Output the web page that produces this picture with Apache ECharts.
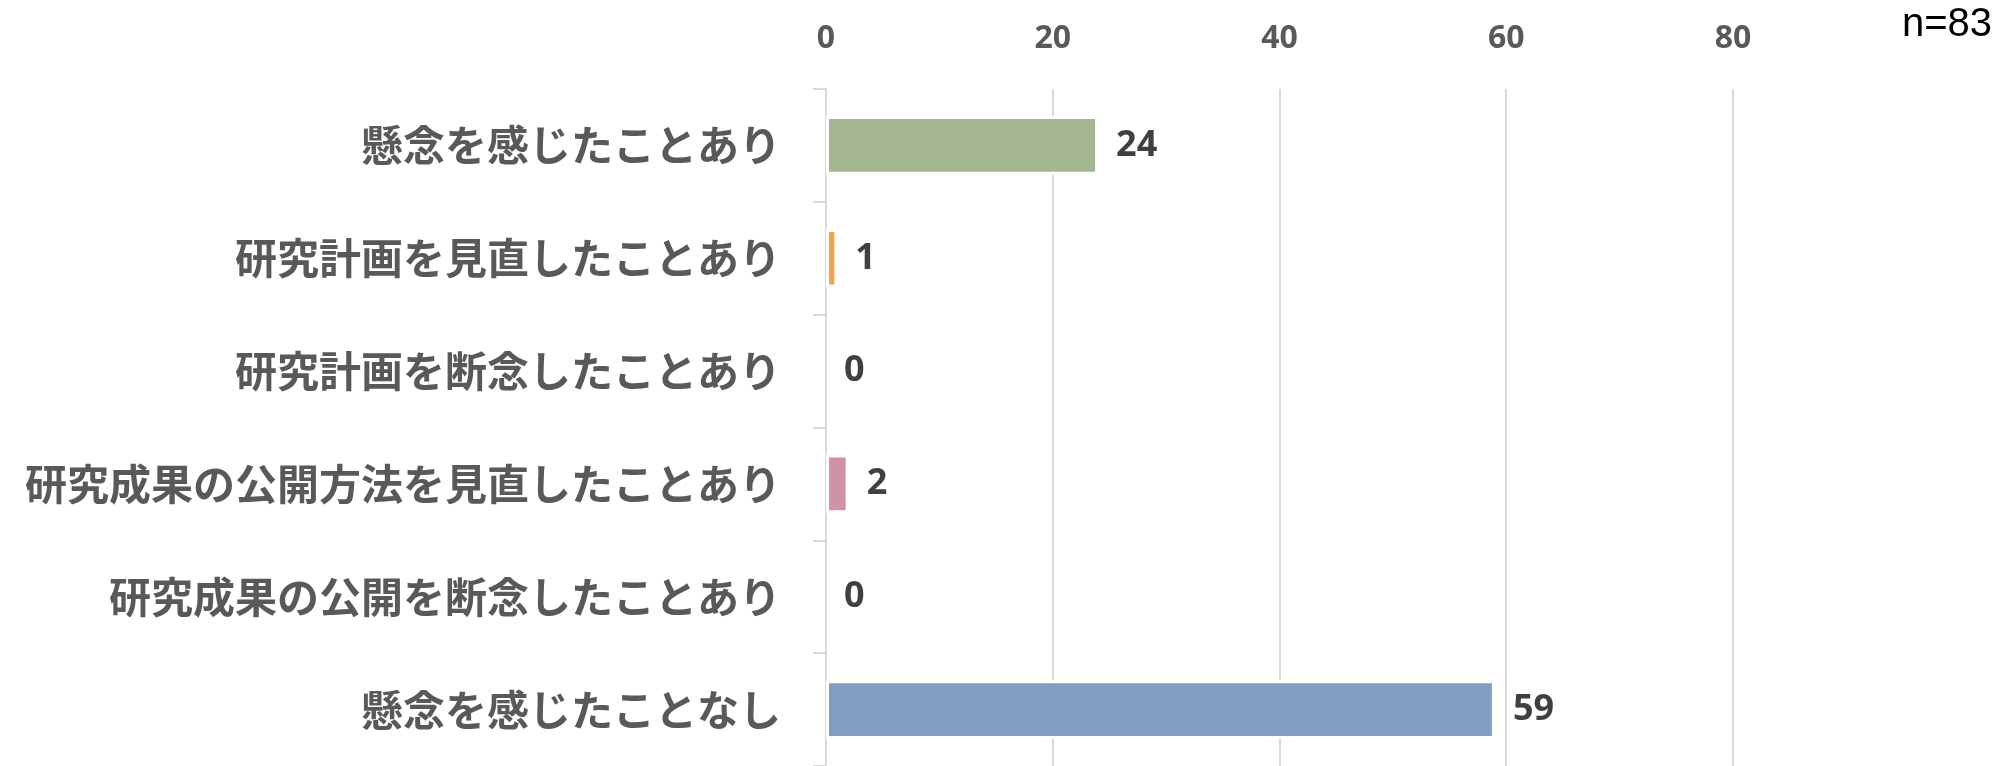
<!DOCTYPE html>
<html>
<head>
<meta charset="utf-8">
<script src="https://cdn.jsdelivr.net/npm/echarts@6/dist/echarts.min.js"></script>
<style>html,body{margin:0;padding:0;background:#fff;}#c{width:1996px;height:766px;}</style>
</head>
<body>
<div id="c"></div>
<script>
const categories = ['懸念を感じたことあり','研究計画を見直したことあり','研究計画を断念したことあり','研究成果の公開方法を見直したことあり','研究成果の公開を断念したことあり','懸念を感じたことなし'];
const values = [24, 1, 0, 2, 0, 59];
const barColors = ['#a5b592','#f3a447','#e7bc29','#d092a7','#9c85c0','#809ec2'];
const axisMax = 83;
const axisInterval = 20;
const noteText = 'n=83';

const chart = echarts.init(document.getElementById('c'), null, {renderer:'canvas'});
chart.setOption({
  animation: false,
  backgroundColor: '#ffffff',
  grid: {left: 826, top: 89, right: 229, height: 680, containLabel: false},
  xAxis: {
    type: 'value', position: 'top', min: 0, max: axisMax, interval: axisInterval,
    axisLine: {show: false}, axisTick: {show: false},
    axisLabel: {showMaxLabel: false, margin: 34, color: '#595959', fontSize: 32, fontWeight: 'bold', fontFamily: 'Noto Sans'},
    splitLine: {show: true, lineStyle: {width: 2, color: ['#d9d9d9','#d9d9d9','#d9d9d9','#d9d9d9','#d9d9d9','rgba(0,0,0,0)']}}
  },
  yAxis: {
    type: 'category', inverse: true, data: categories,
    axisLine: {show: true, lineStyle: {color: '#d9d9d9', width: 2}},
    axisTick: {show: true, length: 13, lineStyle: {color: '#d9d9d9', width: 2}},
    axisLabel: {margin: 45, color: '#595959', fontSize: 42, fontWeight: 'bold', fontFamily: 'Noto Sans CJK JP'}
  },
  series: [{
    type: 'bar',
    data: values.map((v, i) => ({value: v, itemStyle: {color: barColors[i], borderWidth: v === 0 ? 0 : 3}})),
    barCategoryGap: '48%',
    itemStyle: {borderColor: '#ffffff', borderWidth: 3},
    label: {show: true, position: 'right', distance: 18, color: '#404040', fontSize: 36, fontWeight: 'bold', fontFamily: 'Noto Sans'}
  }],
  graphic: [{
    type: 'text', right: 4, top: 5,
    style: {text: noteText, fill: '#000000', fontSize: 40, fontFamily: 'Liberation Sans'}
  }]
});
</script>
</body>
</html>
